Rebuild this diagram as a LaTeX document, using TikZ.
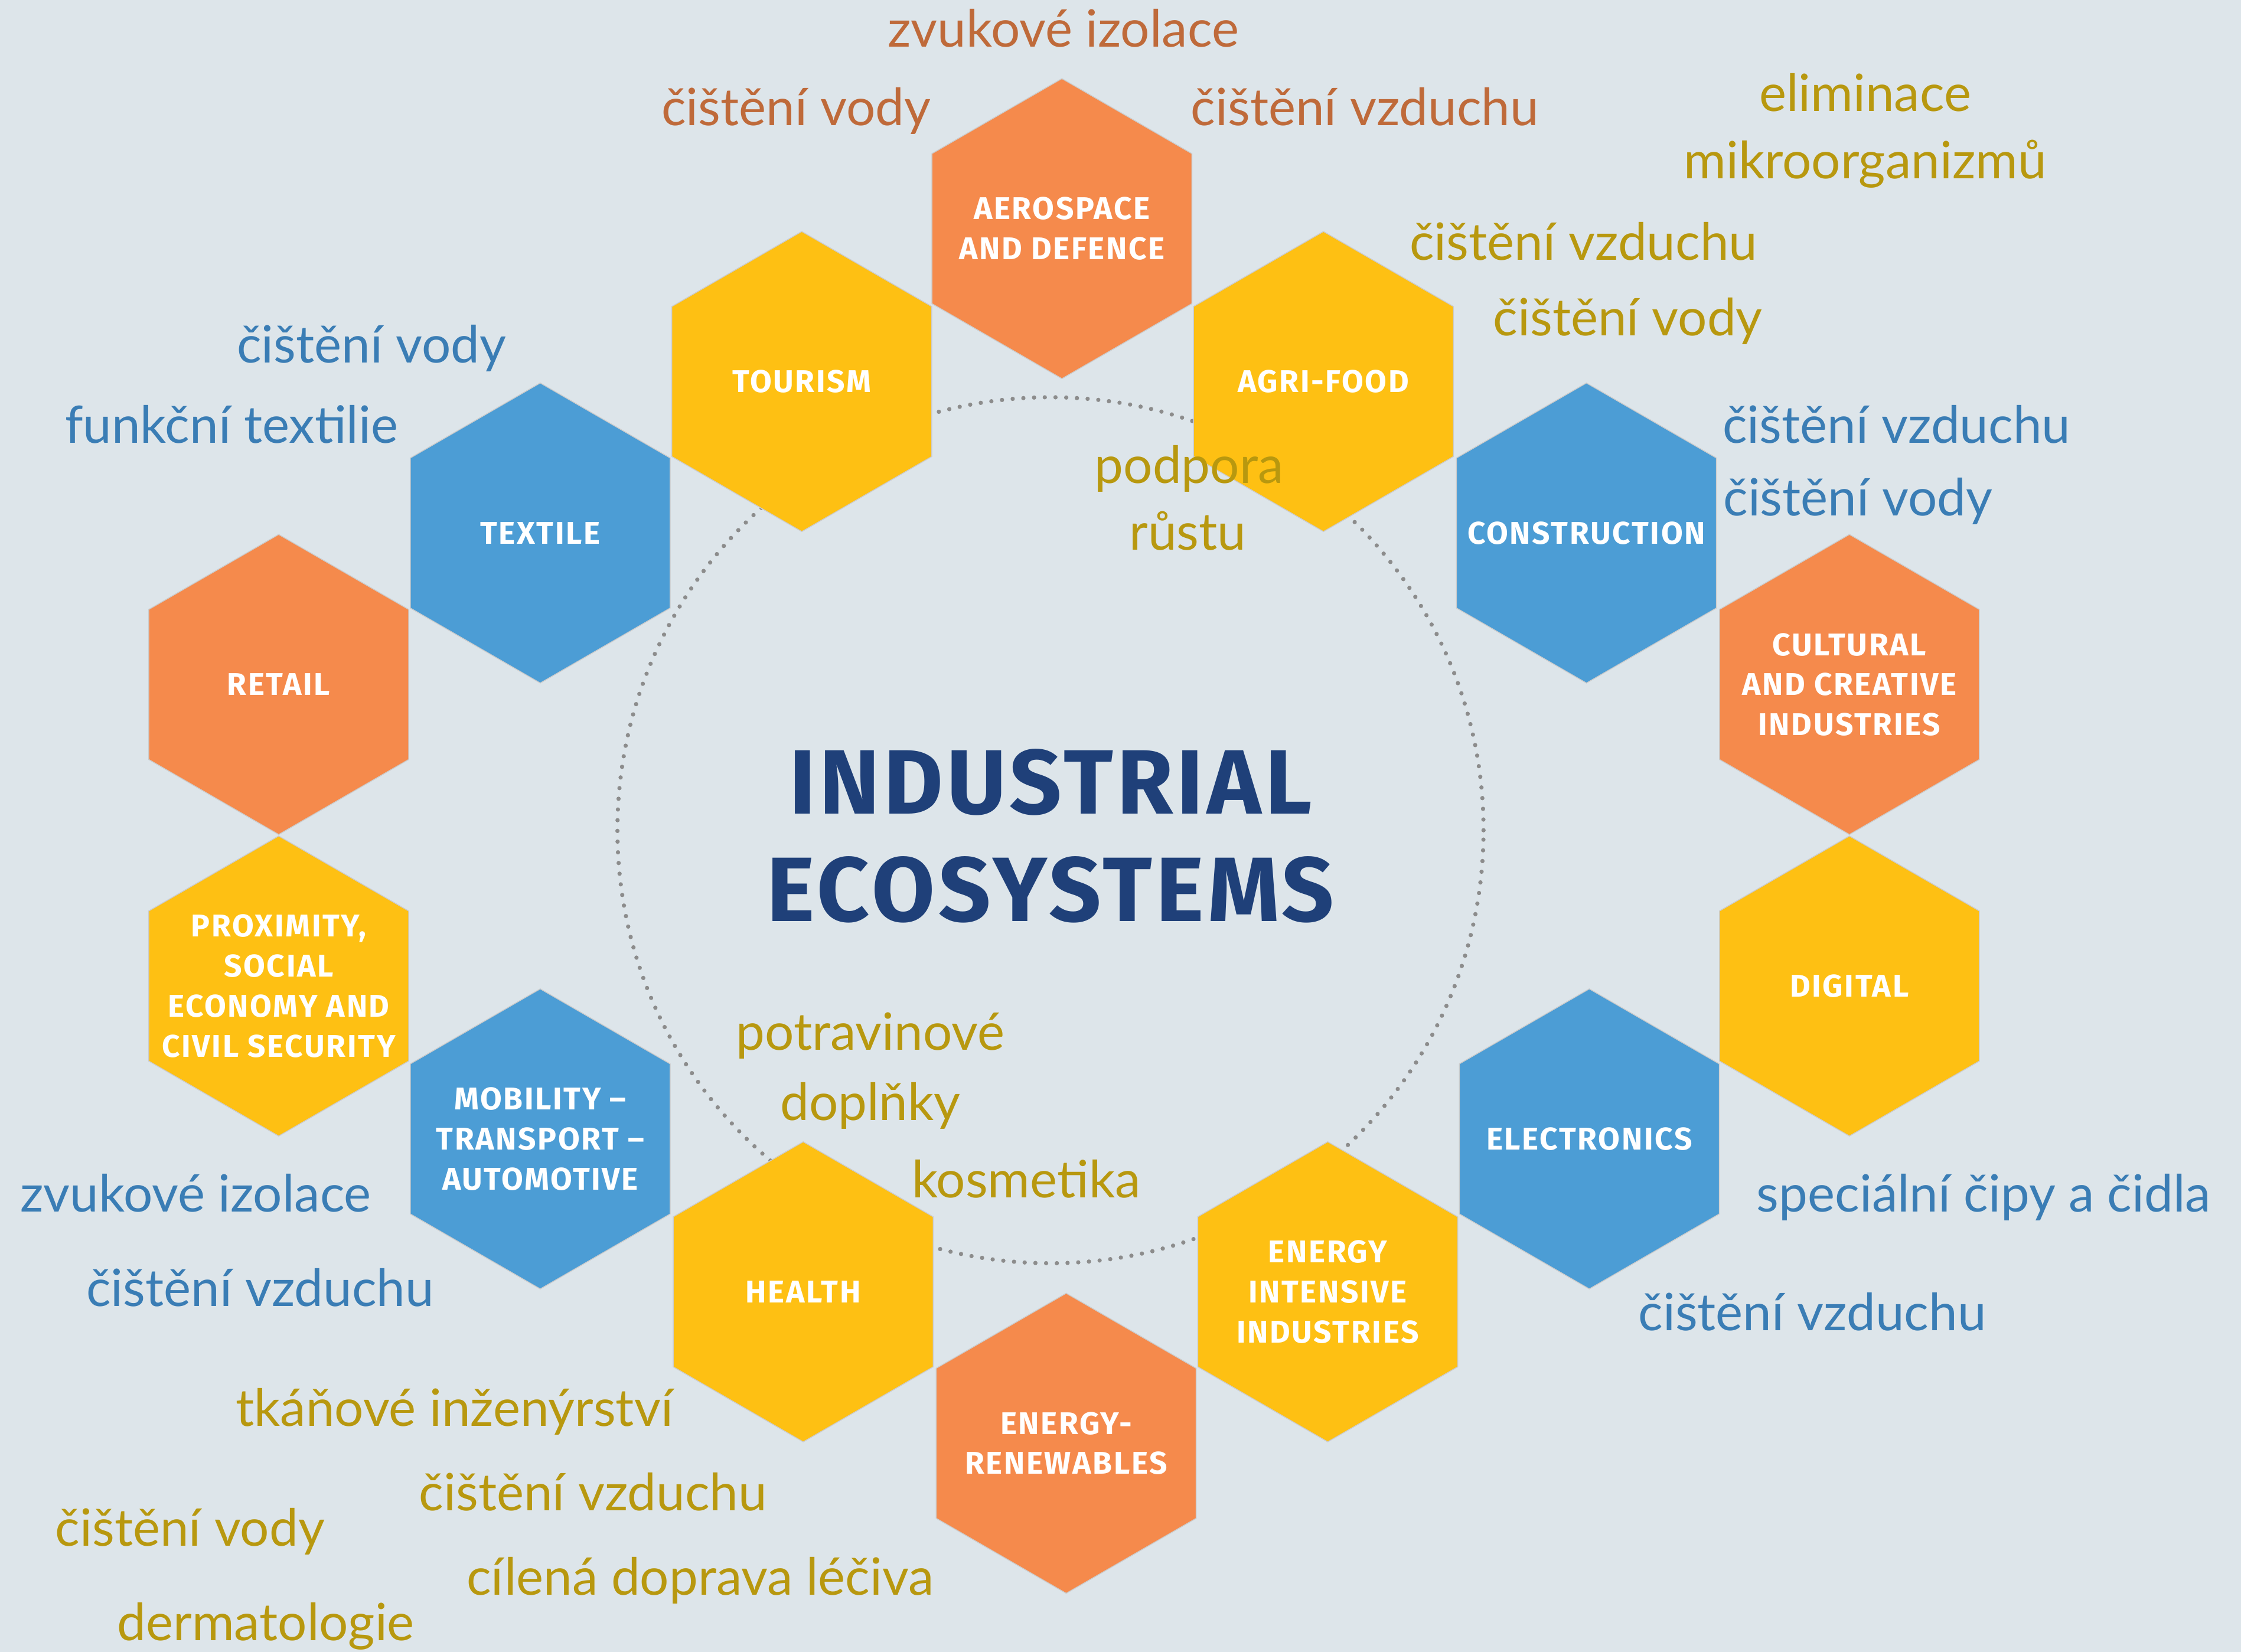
\documentclass[tikz,border=0pt]{standalone}
\usepackage{fontspec}
\usetikzlibrary{shapes.geometric}
\newfontfamily\notefont{Lato}
\newfontfamily\hexfont{Fira Sans}[LetterSpace=5]
\newfontfamily\titlefont{Fira Sans}[LetterSpace=4]
\definecolor{bgcol}{HTML}{DDE5EA}
\definecolor{hexorange}{HTML}{F58A4C}
\definecolor{hexyellow}{HTML}{FEC013}
\definecolor{hexblue}{HTML}{4C9DD5}
\definecolor{titleblue}{HTML}{1F4079}
\definecolor{notebrown}{HTML}{BF6A3A}
\definecolor{noteolive}{HTML}{B8980F}
\definecolor{noteblue}{HTML}{3A7DB5}

\tikzset{
  hexa/.style={regular polygon, regular polygon sides=6, shape border rotate=90,
    minimum size=210pt, inner sep=0pt, draw=black!20, line width=0.6pt},
  hexlabel/.style={text=white, align=center, inner sep=0pt,
    font=\hexfont\bfseries\fontsize{22}{28}\selectfont},
  note/.style={anchor=base, inner sep=0pt, font=\notefont\fontsize{36}{40}\selectfont},
  dotring/.style={circle, minimum size=606pt, draw=black!45, line width=3pt,
    dash pattern=on 0pt off 7.5pt, line cap=round}
}

\begin{document}
\begin{tikzpicture}[x=1pt,y=-1pt]

 \fill[bgcol] (0,0) rectangle (1568,1156);
 \useasboundingbox (0,0) rectangle (1568,1156);

 \node[dotring] (ring) at (735,581) {}; % dotted circle behind the hexagons

% hexagon ring, label kept out of the shape so all hexagons stay the same size
 \node[hexa, fill=hexorange, label={[hexlabel,name=aeroT]center:{AEROSPACE\\AND DEFENCE}}] (aero) at (743,160) {};
 \node[hexa, fill=hexyellow, label={[hexlabel,name=tourT]center:{TOURISM}}] (tour) at (561,267) {};
 \node[hexa, fill=hexyellow, label={[hexlabel,name=agriT]center:{AGRI-FOOD}}] (agri) at (926,267) {};
 \node[hexa, fill=hexblue, label={[hexlabel,name=textT]center:{TEXTILE}}] (text) at (378,373) {};
 \node[hexa, fill=hexblue, label={[hexlabel,name=constrT]center:{CONSTRUCTION}}] (constr) at (1110,373) {};
 \node[hexa, fill=hexorange, label={[hexlabel,name=retailT]center:{RETAIL}}] (retail) at (195,479) {};
 \node[hexa, fill=hexorange, label={[hexlabel,name=cultT]center:{CULTURAL\\AND CREATIVE\\INDUSTRIES}}] (cult) at (1294,479) {};
 \node[hexa, fill=hexyellow, label={[hexlabel,name=proxT]center:{PROXIMITY,\\SOCIAL\\ECONOMY AND\\CIVIL SECURITY}}] (prox) at (195,690) {};
 \node[hexa, fill=hexyellow, label={[hexlabel,name=digitT]center:{DIGITAL}}] (digit) at (1294,690) {};
 \node[hexa, fill=hexblue, label={[hexlabel,name=mobilT]center:{MOBILITY –\\TRANSPORT –\\AUTOMOTIVE}}] (mobil) at (378,797) {};
 \node[hexa, fill=hexblue, label={[hexlabel,name=elecT]center:{ELECTRONICS}}] (elec) at (1112,797) {};
 \node[hexa, fill=hexyellow, label={[hexlabel,name=healthT]center:{HEALTH}}] (health) at (562,904) {};
 \node[hexa, fill=hexyellow, label={[hexlabel,name=enintT]center:{ENERGY\\INTENSIVE\\INDUSTRIES}}] (enint) at (929,904) {};
 \node[hexa, fill=hexorange, label={[hexlabel,name=renewT]center:{ENERGY-\\RENEWABLES}}] (renew) at (746,1010) {};

 \node[text=titleblue, align=center, inner sep=0pt,
   font=\titlefont\bfseries\fontsize{64}{75}\selectfont] (title) at (735,585) {INDUSTRIAL\\ECOSYSTEMS};

% notes round aerospace
 \node[note, text=notebrown] (aeroA) at (744,33)  {zvukové izolace};
 \node[note, text=notebrown] (aeroB) at (557,88)  {čištění vody};
 \node[note, text=notebrown] (aeroC) at (955,88)  {čištění vzduchu};

% notes for the yellow ones
 \node[note, text=noteolive] (agriA) at (1305,78)  {eliminace};
 \node[note, text=noteolive] (agriB) at (1305,125) {mikroorganizmů};
 \node[note, text=noteolive] (agriC) at (1108,182) {čištění vzduchu};
 \node[note, text=noteolive] (agriD) at (1139,235) {čištění vody};
 \node[note, text=noteolive] (agriE) at (832,338)  {podpora};
 \node[note, text=noteolive] (agriF) at (831,385)  {růstu};
 \node[note, text=noteolive] (healA) at (609,735)  {potravinové};
 \node[note, text=noteolive] (healB) at (609,784)  {doplňky};
 \node[note, text=noteolive] (healC) at (718,838)  {kosmetika};
 \node[note, text=noteolive] (healD) at (318,998)  {tkáňové inženýrství};
 \node[note, text=noteolive] (healE) at (415,1057) {čištění vzduchu};
 \node[note, text=noteolive] (healF) at (133,1082) {čištění vody};
 \node[note, text=noteolive] (healG) at (490,1116) {cílená doprava léčiva};
 \node[note, text=noteolive] (healH) at (186,1148) {dermatologie};

% notes for the blue ones
 \node[note, text=noteblue] (textA)   at (260,254)  {čištění vody};
 \node[note, text=noteblue] (textB)   at (162,310)  {funkční textilie};
 \node[note, text=noteblue] (constrA) at (1327,310) {čištění vzduchu};
 \node[note, text=noteblue] (constrB) at (1300,361) {čištění vody};
 \node[note, text=noteblue] (mobilA)  at (137,848)  {zvukové izolace};
 \node[note, text=noteblue] (mobilB)  at (182,914)  {čištění vzduchu};
 \node[note, text=noteblue] (elecA)   at (1388,848) {speciální čipy a čidla};
 \node[note, text=noteblue] (elecB)   at (1268,931) {čištění vzduchu};

\end{tikzpicture}
\end{document}
